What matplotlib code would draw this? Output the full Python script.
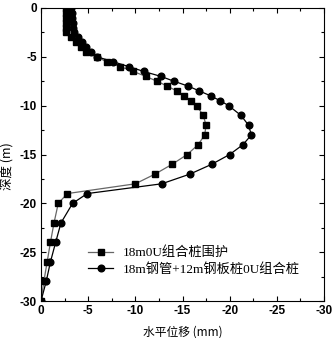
import matplotlib
matplotlib.use("Agg")
import matplotlib.pyplot as plt
from matplotlib.ticker import MultipleLocator

plt.rcParams['font.family'] = ['Liberation Serif', 'Noto Sans CJK SC']

depth_sq = [0, -0.5, -1, -1.5, -2, -2.5, -3, -3.5, -4, -4.5, -5, -5.5, -6, -6.5, -7, -7.5,
            -8, -8.5, -9, -9.5, -10, -11, -12, -13, -14, -15, -16, -17, -18, -19, -20,
            -22, -24, -26, -28, -30]
disp_sq = [-2.6, -2.6, -2.62, -2.65, -2.68, -2.7, -3.2, -3.7, -4.2, -4.8, -5.9, -6.95, -8.4,
           -9.8, -11.1, -12.3, -13.4, -14.4, -15.2, -15.9, -16.5, -17.2, -17.5, -17.35,
           -16.65, -15.5, -13.9, -12.1, -10.0, -2.8, -1.83, -1.38, -1.0, -0.65, -0.3, 0.0]

depth_ci = [0, -0.5, -1, -1.5, -2, -2.5, -3, -3.5, -4, -4.5, -5, -5.5, -6, -6.5, -7, -7.5,
            -8, -8.5, -9, -9.5, -10, -11, -12, -13, -14, -15, -16, -17, -18, -19, -20,
            -22, -24, -26, -28, -30]
disp_ci = [-3.2, -3.25, -3.3, -3.35, -3.42, -3.5, -3.95, -4.3, -4.8, -5.3, -5.96, -7.65, -9.3,
           -10.9, -12.7, -14.1, -15.6, -16.8, -18.0, -19.0, -19.9, -21.2, -22.0, -22.3,
           -21.4, -20.0, -18.1, -15.8, -12.8, -4.9, -3.35, -2.12, -1.55, -1.0, -0.55, 0.0]

labels = ['18m0U组合桩围护', '18m钢管+12m钢板桩0U组合桩']
xticks = [0, -5, -10, -15, -20, -25, -30]
yticks = [0, -5, -10, -15, -20, -25, -30]

fig = plt.figure(figsize=(3.33, 3.38), dpi=100)
ax = fig.add_axes([41/333, 1-301/338, 283/333, 293/338])

ax.plot(disp_sq, depth_sq, color='#666666', lw=0.9, marker='s', ms=4.0,
        mfc='black', mec='black', label=labels[0])
ax.plot(disp_ci, depth_ci, color='black', lw=0.9, marker='o', ms=4.8,
        mfc='black', mec='black', label=labels[1])

ax.set_xlim(0, -30)
ax.set_ylim(-30, 0)
ax.set_xticks(xticks)
ax.set_yticks(yticks)
tick_font = dict(family=['Liberation Sans'], fontweight='bold', fontsize=8.5)
ax.set_xticklabels([str(v) for v in xticks], **tick_font)
ax.set_yticklabels([str(v) for v in yticks], **tick_font)
ax.xaxis.set_minor_locator(MultipleLocator(2.5))
ax.yaxis.set_minor_locator(MultipleLocator(2.5))
ax.tick_params(which='both', direction='in', top=True, right=True)
ax.tick_params(which='major', length=3.5, width=0.8, pad=3)
ax.tick_params(which='minor', length=2, width=0.8)
for s in ax.spines.values():
    s.set_linewidth(0.8)

ax.set_xlabel('水平位移 (mm)', fontsize=8.5, family=['Noto Sans CJK SC', 'Liberation Serif'])
ax.xaxis.set_label_coords(0.5, -0.085)
ax.set_ylabel('深度 (m)', fontsize=9, family=['Noto Sans CJK SC', 'Liberation Serif'])
ax.yaxis.set_label_coords(-0.093, 0.46)

leg = ax.legend(loc='lower left', bbox_to_anchor=(0.125, 0.045), frameon=False,
                handlelength=1.9, handletextpad=0.75, labelspacing=0.3,
                prop={'family': ['Liberation Serif', 'Noto Sans CJK SC'], 'size': 9.5})

fig.savefig('out.png', dpi=100)
